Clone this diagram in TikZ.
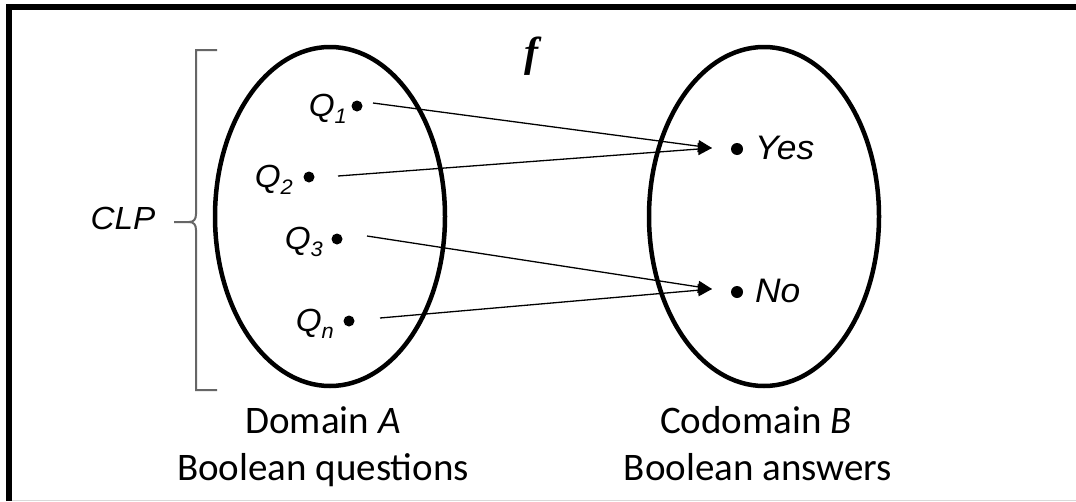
\documentclass[tikz,border=0pt]{standalone}
\usepackage{fontspec}
\setmainfont{Liberation Sans}
\newfontfamily\arialf[FakeStretch=1.04]{Liberation Sans}
\newfontfamily\calibf{Carlito}
\newfontfamily\timesf{Liberation Serif}
\usetikzlibrary{arrows.meta,shapes.geometric}
\begin{document}
\begin{tikzpicture}[x=1pt,y=-1pt,
  setell/.style={draw,ellipse,line width=4.5pt,minimum width=230pt,minimum height=339pt,inner sep=0pt},
  dotst/.style={circle,fill=black,inner sep=0pt,minimum size=11pt},
  qlab/.style={font=\arialf\itshape\fontsize{32}{32}\selectfont,inner sep=0pt,anchor=base east},
  anslab/.style={font=\arialf\itshape\fontsize{34}{34}\selectfont,inner sep=0pt,anchor=base west},
  bottomlab/.style={font=\calibf\fontsize{39}{39}\selectfont,inner sep=0pt,anchor=base},
  arr/.style={line width=1.3pt,-{Triangle[length=14pt,width=12pt]}},
  bracestyle/.style={draw=black!60,line width=2pt,line join=miter}]
\useasboundingbox (0,0) rectangle (1076,501);
\fill[white] (-20,-20) rectangle (1100,520);
% frame
\draw[line width=6pt] (9,501) -- (9,7) -- (1076,7);
\draw[black!15,line width=1pt] (12,500.5) -- (1076,500.5);
% sets
\node[setell] (A) at (330,216.5) {};
\node[setell] (B) at (764,216.5) {};
% function label
\node[font=\timesf\bfseries\itshape\fontsize{42}{42}\selectfont,inner sep=0pt] (f) at (531,56) {f};
% domain points
\node[dotst] (q1) at (357,106) {};
\node[dotst] (q2) at (309,177) {};
\node[dotst] (q3) at (337,239) {};
\node[dotst] (qn) at (349,321) {};
\node[qlab] (lq1) at (347,116) {Q\raisebox{-7pt}{\fontsize{21}{21}\selectfont 1}};
\node[qlab] (lq2) at (293,187) {Q\raisebox{-7pt}{\fontsize{21}{21}\selectfont 2}};
\node[qlab] (lq3) at (323,249) {Q\raisebox{-7pt}{\fontsize{21}{21}\selectfont 3}};
\node[qlab] (lqn) at (334,331) {Q\raisebox{-7pt}{\fontsize{21}{21}\selectfont n}};
% codomain points
\node[dotst,minimum size=12pt] (yesdot) at (737,149) {};
\node[dotst,minimum size=12pt] (nodot) at (737,292) {};
\node[anslab] (yes) at (755,159) {Yes};
\node[anslab] (no) at (755,302) {No};
% arrow ends
\coordinate (s1) at (373,103);
\coordinate (s2) at (338,176);
\coordinate (s3) at (367,236);
\coordinate (sn) at (380,318);
\coordinate (ty) at (712,148);
\coordinate (tn) at (712,289);
\draw[arr] (s1) -- (ty);
\draw[arr] (s2) -- (ty);
\draw[arr] (s3) -- (tn);
\draw[arr] (sn) -- (tn);
% brace
\draw[bracestyle] (217,50) -- (196,50) -- (196,214)
  .. controls (196,219) and (194,222) .. (189,222) -- (174,222);
\draw[bracestyle] (189,222) .. controls (194,222) and (196,225) .. (196,230)
  -- (196,390) -- (217,390);
\node[font=\arialf\itshape\fontsize{32}{32}\selectfont,inner sep=0pt,anchor=base] (clp) at (123,229) {CLP};
% bottom labels
\node[bottomlab] (da) at (323,433) {Domain \textit{A}};
\node[bottomlab] (bq) at (323,480) {Boolean questions};
\node[bottomlab] (cb) at (756,433) {Codomain \textit{B}};
\node[bottomlab] (ba) at (758,480) {Boolean answers};
\end{tikzpicture}
\end{document}
